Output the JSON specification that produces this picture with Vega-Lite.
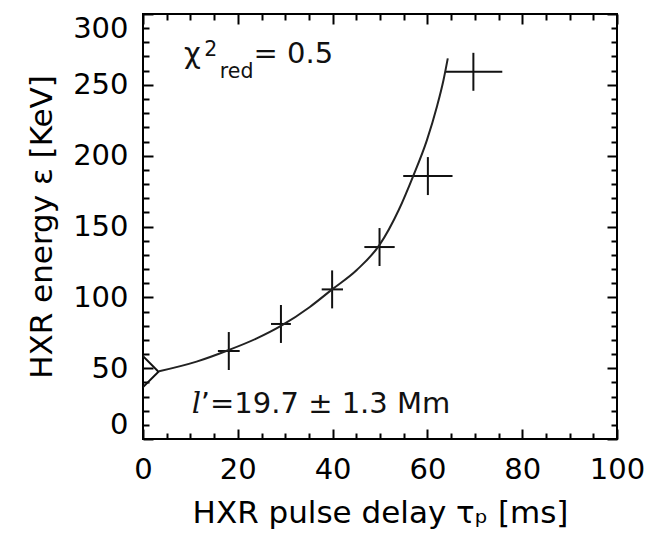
{
  "$schema": "https://vega.github.io/schema/vega-lite/v6.json",
  "width": 474,
  "height": 425,
  "autosize": {"type": "none"},
  "padding": {"left": 143, "top": 14, "right": 43, "bottom": 96},
  "background": "white",
  "config": {
    "view": {"stroke": "black", "strokeWidth": 2},
    "axis": {
      "domain": false,
      "grid": false,
      "tickColor": "black",
      "tickWidth": 2,
      "labelFont": "DejaVu Sans",
      "labelFontSize": 29,
      "labelColor": "black",
      "titleFont": "DejaVu Sans",
      "titleFontSize": 31,
      "titleFontWeight": "normal",
      "titleColor": "black",
      "labelOverlap": false,
      "labelFlush": false
    }
  },
  "datasets": {
    "crosses": [
      {"x": 18.1, "y": 62.1, "xlo": 15.8, "xhi": 20.4, "ylo": 48.7, "yhi": 75.5},
      {"x": 29.1, "y": 81.2, "xlo": 27.0, "xhi": 31.2, "ylo": 67.8, "yhi": 94.6},
      {"x": 39.9, "y": 105.6, "xlo": 37.7, "xhi": 42.2, "ylo": 92.2, "yhi": 119.0},
      {"x": 49.9, "y": 135.5, "xlo": 46.7, "xhi": 53.1, "ylo": 122.1, "yhi": 148.9},
      {"x": 60.1, "y": 185.6, "xlo": 54.9, "xhi": 65.3, "ylo": 172.2, "yhi": 199.0},
      {"x": 69.7, "y": 259.2, "xlo": 63.7, "xhi": 75.8, "ylo": 245.8, "yhi": 272.6}
    ],
    "fit": [
      {"x": 3.4, "y": 47.8},
      {"x": 11.3, "y": 54.6},
      {"x": 18.1, "y": 62.8},
      {"x": 24.0, "y": 71.0},
      {"x": 29.1, "y": 79.8},
      {"x": 35.2, "y": 93.2},
      {"x": 39.9, "y": 105.6},
      {"x": 45.1, "y": 119.3},
      {"x": 49.9, "y": 137.0},
      {"x": 54.0, "y": 162.0},
      {"x": 57.0, "y": 185.6},
      {"x": 59.9, "y": 211.0},
      {"x": 62.0, "y": 234.5},
      {"x": 63.4, "y": 253.4},
      {"x": 64.3, "y": 268.7}
    ],
    "ref": [{"x": 0, "y": 47.5}],
    "big": [
      {"x": 8.65, "y": 265.1, "t": "χ"},
      {"x": 23.3, "y": 265.1, "t": "= 0.5"},
      {"x": 12.2, "y": 18.1, "t": "’=19.7 ± 1.3 Mm"}
    ],
    "small": [
      {"x": 12.9, "y": 270.5, "t": "2"},
      {"x": 16.2, "y": 254.6, "t": "red"}
    ],
    "ital": [{"x": 10.3, "y": 18.1, "t": "l"}]
  },
  "layer": [
    {
      "data": {"name": "crosses"},
      "mark": {"type": "rule", "color": "#111", "strokeWidth": 2},
      "encoding": {
        "x": {"field": "x", "type": "quantitative", "scale": {"domain": [0, 100], "nice": false},
          "axis": {"orient": "bottom", "values": [0, 20, 40, 60, 80, 100], "ticks": false, "labelPadding": 16, "title": "HXR pulse delay τₚ [ms]", "titleY": 83, "titleBaseline": "alphabetic"}},
        "y": {"field": "ylo", "type": "quantitative", "scale": {"domain": [0, 300], "nice": false},
          "axis": {"orient": "left", "values": [0, 50, 100, 150, 200, 250, 300], "ticks": false, "labelPadding": 15, "labelFlush": true, "title": "HXR energy ε [KeV]", "titleX": -91.6, "titleBaseline": "alphabetic"}},
        "y2": {"field": "yhi"}
      }
    },
    {
      "data": {"name": "crosses"},
      "mark": {"type": "rule", "color": "#111", "strokeWidth": 2},
      "encoding": {
        "x": {"field": "xlo", "type": "quantitative", "scale": {"domain": [0, 100], "nice": false},
          "axis": {"orient": "bottom", "values": [0, 20, 40, 60, 80, 100], "labels": false, "tickSize": -10, "title": null}},
        "x2": {"field": "xhi"},
        "y": {"field": "y", "type": "quantitative", "scale": {"domain": [0, 300], "nice": false},
          "axis": {"orient": "left", "values": [0, 50, 100, 150, 200, 250, 300], "labels": false, "tickSize": -10, "title": null}}
      }
    },
    {
      "data": {"name": "fit"},
      "mark": {"type": "line", "color": "#222", "strokeWidth": 2, "interpolate": "monotone"},
      "encoding": {
        "x": {"field": "x", "type": "quantitative", "scale": {"domain": [0, 100], "nice": false},
          "axis": {"orient": "bottom", "values": [5, 10, 15, 25, 30, 35, 45, 50, 55, 65, 70, 75, 85, 90, 95], "labels": false, "tickSize": -6, "title": null}},
        "y": {"field": "y", "type": "quantitative", "scale": {"domain": [0, 300], "nice": false},
          "axis": {"orient": "left", "values": [10, 20, 30, 40, 60, 70, 80, 90, 110, 120, 130, 140, 160, 170, 180, 190, 210, 220, 230, 240, 260, 270, 280, 290], "labels": false, "tickSize": -6, "title": null}}
      }
    },
    {
      "data": {"name": "ref"},
      "mark": {"type": "point", "shape": "diamond", "filled": false, "stroke": "#111", "strokeWidth": 2, "size": 961, "opacity": 1, "clip": true},
      "encoding": {
        "x": {"field": "x", "type": "quantitative", "scale": {"domain": [0, 100], "nice": false},
          "axis": {"orient": "top", "values": [0, 20, 40, 60, 80, 100], "labels": false, "tickSize": -10, "title": null}},
        "y": {"field": "y", "type": "quantitative", "scale": {"domain": [0, 300], "nice": false},
          "axis": {"orient": "right", "values": [0, 50, 100, 150, 200, 250, 300], "labels": false, "tickSize": -10, "title": null}}
      }
    },
    {
      "data": {"name": "big"},
      "mark": {"type": "text", "align": "left", "baseline": "alphabetic", "font": "DejaVu Sans", "fontSize": 29, "color": "#111"},
      "encoding": {
        "x": {"field": "x", "type": "quantitative", "scale": {"domain": [0, 100], "nice": false},
          "axis": {"orient": "top", "values": [5, 10, 15, 25, 30, 35, 45, 50, 55, 65, 70, 75, 85, 90, 95], "labels": false, "tickSize": -6, "title": null}},
        "y": {"field": "y", "type": "quantitative", "scale": {"domain": [0, 300], "nice": false},
          "axis": {"orient": "right", "values": [10, 20, 30, 40, 60, 70, 80, 90, 110, 120, 130, 140, 160, 170, 180, 190, 210, 220, 230, 240, 260, 270, 280, 290], "labels": false, "tickSize": -6, "title": null}},
        "text": {"field": "t"}
      }
    },
    {
      "data": {"name": "small"},
      "mark": {"type": "text", "align": "left", "baseline": "alphabetic", "font": "DejaVu Sans", "fontSize": 20.5, "color": "#111"},
      "encoding": {
        "x": {"field": "x", "type": "quantitative", "scale": {"domain": [0, 100], "nice": false}, "axis": null},
        "y": {"field": "y", "type": "quantitative", "scale": {"domain": [0, 300], "nice": false}, "axis": null},
        "text": {"field": "t"}
      }
    },
    {
      "data": {"name": "ital"},
      "mark": {"type": "text", "align": "left", "baseline": "alphabetic", "font": "DejaVu Serif", "fontStyle": "italic", "fontSize": 29, "color": "#111"},
      "encoding": {
        "x": {"field": "x", "type": "quantitative", "scale": {"domain": [0, 100], "nice": false}, "axis": null},
        "y": {"field": "y", "type": "quantitative", "scale": {"domain": [0, 300], "nice": false}, "axis": null},
        "text": {"field": "t"}
      }
    }
  ],
  "resolve": {"axis": {"x": "independent", "y": "independent"}}
}
